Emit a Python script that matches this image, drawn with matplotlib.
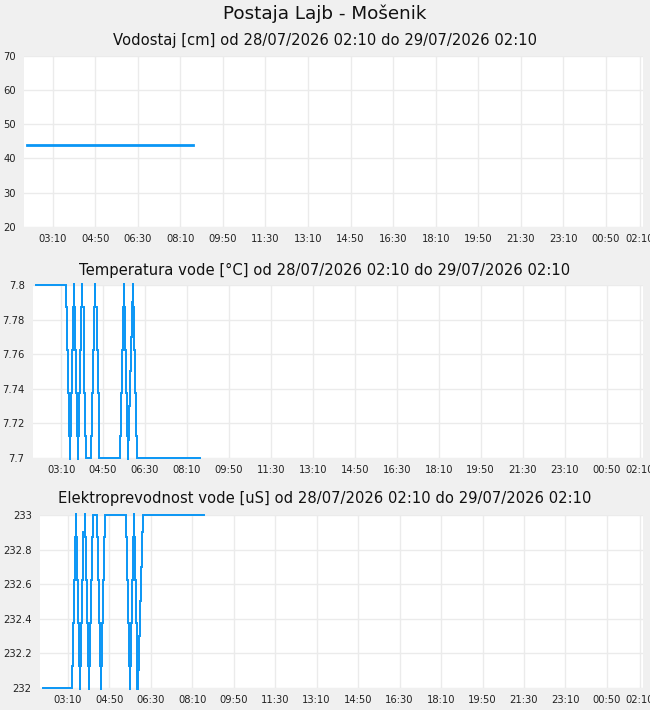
import matplotlib
matplotlib.use("Agg")
import matplotlib.pyplot as plt
from matplotlib.patches import Rectangle

# ---------------- data (minutes since 28/07/2026 02:10) ----------------
tick_minutes = [60, 160, 260, 360, 460, 560, 660, 760, 860, 960, 1060, 1160, 1260, 1360, 1440]
tick_labels = ["03:10", "04:50", "06:30", "08:10", "09:50", "11:30", "13:10", "14:50",
               "16:30", "18:10", "19:50", "21:30", "23:10", "00:50", "02:10"]

vod_t = [0, 390]
vod_v = [44, 44]

temp_t = [0, 71.9, 74.3, 76.7, 79.1, 81.5, 81.9, 83.9, 86.3, 88.6, 90.2, 90.6, 92.6, 95.0,
          97.4, 99.8, 100.2, 103.0, 105.4, 107.8, 110.2, 110.6, 113.4, 115.7, 118.1, 119.7,
          131.7, 134.1, 136.5, 138.9, 141.2, 141.6, 144.4, 146.8, 149.2, 150.8,
          199.4, 201.8, 204.2, 206.6, 209.8, 210.2, 213.0, 215.4, 217.8, 220.2, 220.6,
          221.8, 223.4, 225.8, 228.2, 231.4, 231.8, 233.8, 236.2, 238.6, 241.0, 390.8]
temp_v = [7.8, 7.7875, 7.7625, 7.7375, 7.7125, 7.68, 7.7125, 7.7375, 7.7625, 7.7875, 7.82, 7.7875, 7.7625, 7.7375,
          7.7125, 7.68, 7.7125, 7.7375, 7.7625, 7.7875, 7.82, 7.7875, 7.7625, 7.7375, 7.7125, 7.7,
          7.7125, 7.7375, 7.7625, 7.7875, 7.82, 7.7875, 7.7625, 7.7375, 7.7125, 7.7,
          7.7125, 7.7375, 7.7625, 7.7875, 7.82, 7.7875, 7.7625, 7.7375, 7.7125, 7.68, 7.71,
          7.73, 7.75, 7.77, 7.79, 7.82, 7.7875, 7.7625, 7.7375, 7.7125, 7.7, 7.7]

ep_t = [0, 69.6, 72.0, 74.4, 76.8, 79.2, 79.6, 81.6, 84.0, 86.4, 88.8, 89.2, 91.2, 93.6,
        96.0, 100.8, 101.2, 103.2, 105.6, 108.0, 110.4, 110.8, 112.8, 115.2, 117.6, 120.0,
        129.6, 132.0, 134.4, 136.8, 139.2, 139.6, 141.6, 144.0, 146.4, 148.8,
        200.0, 202.4, 204.8, 207.2, 209.6, 210.0, 212.0, 214.4, 216.8, 219.2, 219.6,
        221.6, 224.0, 226.4, 228.0, 228.4, 231.2, 233.6, 236.0, 238.4, 240.8, 389.4]
ep_v = [232, 232.125, 232.375, 232.625, 232.875, 233.1, 232.875, 232.625, 232.375, 232.125, 231.9, 232.125, 232.375, 232.625,
        232.9, 233.1, 232.875, 232.625, 232.375, 232.125, 231.9, 232.125, 232.375, 232.625, 232.875, 233,
        232.875, 232.625, 232.375, 232.125, 231.9, 232.125, 232.375, 232.625, 232.875, 233,
        232.875, 232.625, 232.375, 232.125, 231.9, 232.125, 232.375, 232.625, 232.875, 233.1, 232.875,
        232.625, 232.375, 232.125, 231.9, 232.1, 232.3, 232.5, 232.7, 232.9, 233, 233]

main_title = "Postaja Lajb - Mošenik"
sub_titles = ["Vodostaj [cm] od 28/07/2026 02:10 do 29/07/2026 02:10",
              "Temperatura vode [°C] od 28/07/2026 02:10 do 29/07/2026 02:10",
              "Elektroprevodnost vode [uS] od 28/07/2026 02:10 do 29/07/2026 02:10"]

vod_yticks = [20, 30, 40, 50, 60, 70]
vod_ylabels = ["20", "30", "40", "50", "60", "70"]
temp_yticks = [7.7, 7.72, 7.74, 7.76, 7.78, 7.8]
temp_ylabels = ["7.7", "7.72", "7.74", "7.76", "7.78", "7.8"]
ep_yticks = [232, 232.2, 232.4, 232.6, 232.8, 233]
ep_ylabels = ["232", "232.2", "232.4", "232.6", "232.8", "233"]

# ---------------- layout ----------------
W, H = 650, 710
BG = "#f0f0f0"
LINE = "#0a96f5"
GRID = "#ebebeb"

fig = plt.figure(figsize=(W / 100, H / 100), dpi=100, facecolor=BG)

panels = [
    # left, top, bottom (px)
    (24, 55.7, 227.0),
    (33, 285.0, 457.7),
    (40, 515.0, 687.7),
]
right = 643
series = [(vod_t, vod_v, vod_yticks, vod_ylabels, 2.0),
          (temp_t, temp_v, temp_yticks, temp_ylabels, 1.4),
          (ep_t, ep_v, ep_yticks, ep_ylabels, 1.4)]
title_y = [40, 270, 499]

fig.text(0.5, 1 - 14 / H, main_title, ha="center", va="center",
         fontsize=13.2, family="DejaVu Sans", color="#111111")

for (l, t, b), (xs, ys, yt, yl, lw), sub, ty in zip(panels, series, sub_titles, title_y):
    ax = fig.add_axes([l / W, 1 - b / H, (right - l) / W, (b - t) / H])
    ax.set_facecolor("white")
    for s in ax.spines.values():
        s.set_visible(False)
    ax.set_xlim(-7, 1447)
    ax.set_ylim(yt[0], yt[-1])
    ax.set_xticks(tick_minutes)
    ax.set_xticklabels(tick_labels)
    ax.set_yticks(yt)
    ax.set_yticklabels(yl)
    ax.tick_params(length=0, labelsize=7.2, colors="#222222")
    ax.tick_params(axis="x", pad=5)
    ax.tick_params(axis="y", pad=6)
    ax.grid(True, color=GRID, lw=1)
    ax.set_axisbelow(True)
    ln, = ax.step(xs, ys, where="post", color=LINE, lw=lw, solid_joinstyle="miter")
    clip = Rectangle((-0.01, -0.012), 1.02, 1.024, transform=ax.transAxes)
    ln.set_clip_path(clip)
    fig.text(0.5, 1 - ty / H, sub, ha="center", va="center", fontsize=10.6,
             family="DejaVu Sans", color="#111111")

fig.savefig("out.png", dpi=100, facecolor=BG)
